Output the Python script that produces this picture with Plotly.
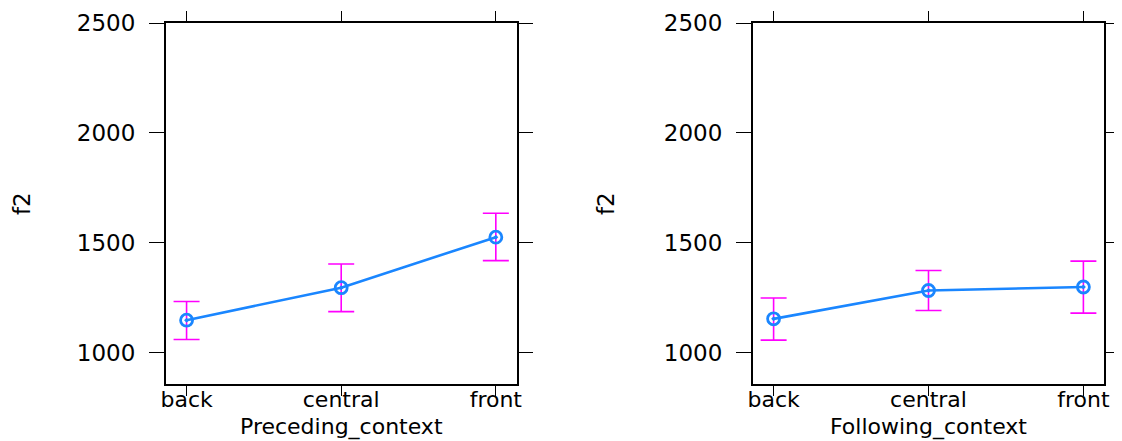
import plotly.graph_objects as go

categories = ["back", "central", "front"]
cat_pos = [1, 2, 3]

prec_fit = [1147, 1295, 1525]
prec_upper = [1232, 1403, 1634]
prec_lower = [1059, 1186, 1418]

foll_fit = [1153, 1282, 1298]
foll_upper = [1248, 1373, 1416]
foll_lower = [1056, 1191, 1179]

y_ticks = [1000, 1500, 2000, 2500]
y_title = "f2"
x_titles = ["Preceding_context", "Following_context"]

FONT = "DejaVu Sans, Liberation Sans, Arial, sans-serif"
BLUE = "#1a86ff"
MAGENTA = "#ff00ff"

fig = go.Figure()

panels = [
    (prec_fit, prec_upper, prec_lower, "x", "y"),
    (foll_fit, foll_upper, foll_lower, "x2", "y2"),
]
for fit, up, lo, xa, ya in panels:
    fig.add_trace(go.Scatter(
        x=cat_pos, y=fit, xaxis=xa, yaxis=ya, mode="markers",
        marker=dict(size=1, color="rgba(0,0,0,0)"),
        error_y=dict(type="data", symmetric=False,
                     array=[u - f for u, f in zip(up, fit)],
                     arrayminus=[f - l for f, l in zip(fit, lo)],
                     color=MAGENTA, thickness=1.6, width=13),
        showlegend=False, hoverinfo="skip"))
    fig.add_trace(go.Scatter(
        x=cat_pos, y=fit, xaxis=xa, yaxis=ya, mode="lines+markers",
        line=dict(color=BLUE, width=2.6),
        marker=dict(symbol="circle-open-dot", size=12, color=BLUE,
                    line=dict(color=BLUE, width=2.8)),
        showlegend=False))

common_x = dict(range=[0.865, 3.135], tickvals=cat_pos, ticktext=categories,
                showline=True, mirror="ticks", linecolor="black", linewidth=1.5,
                ticks="outside", ticklen=10, tickwidth=1.3, tickcolor="black",
                showgrid=False, zeroline=False, automargin=False,
                ticklabelstandoff=-15,
                tickfont=dict(family=FONT, size=22, color="black"))
common_y = dict(range=[855, 2500], tickvals=y_ticks,
                showline=True, mirror="ticks", linecolor="black", linewidth=1.5,
                ticks="outside", ticklen=15, tickwidth=1.3, tickcolor="black",
                showgrid=False, zeroline=False, ticklabelstandoff=9, automargin=False,
                tickfont=dict(family=FONT, size=23, color="black"))

W, H = 1122, 441
OFF = 8  # page body margin offset


def px_x(v):
    return (v - OFF) / W


def px_y(v):
    return 1 - (v - OFF) / H


ydom = [px_y(384.3), px_y(23)]
fig.update_layout(
    width=W, height=H,
    margin=dict(l=0, r=0, t=0, b=0, pad=0, autoexpand=False),
    paper_bgcolor="white", plot_bgcolor="white",
    xaxis=dict(domain=[px_x(165.7), px_x(516.7)], anchor="y", **common_x),
    yaxis=dict(domain=ydom, anchor="x", **common_y),
    xaxis2=dict(domain=[px_x(752.7), px_x(1104.3)], anchor="y2", **common_x),
    yaxis2=dict(domain=ydom, anchor="x2", **common_y),
)

ann = []
for cx, tx in [((165.7 + 516.7) / 2, x_titles[0]), ((752.7 + 1104.3) / 2, x_titles[1])]:
    ann.append(dict(text=tx, xref="paper", yref="paper", x=px_x(cx), y=px_y(426.5),
                    xanchor="center", yanchor="middle", showarrow=False,
                    font=dict(family=FONT, size=22, color="black")))
for cx in [22, 606]:
    ann.append(dict(text=y_title, xref="paper", yref="paper", x=px_x(cx), y=px_y(204),
                    xanchor="center", yanchor="middle", showarrow=False, textangle=-90,
                    font=dict(family=FONT, size=23, color="black")))
fig.update_layout(annotations=ann)

fig.write_html("out.html")
